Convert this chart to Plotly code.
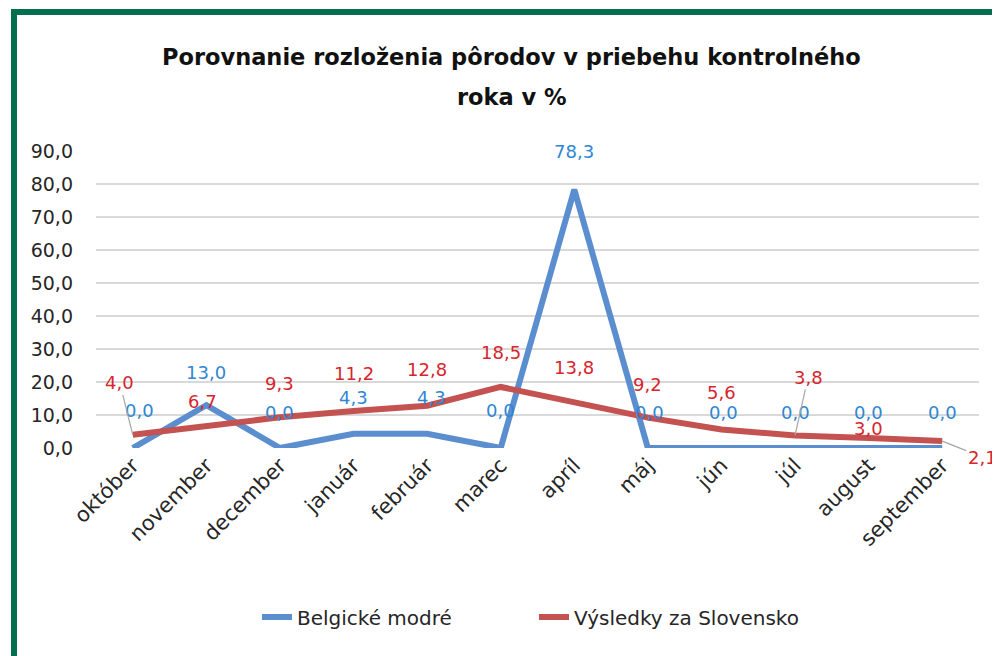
import plotly.graph_objects as go

months = ["október", "november", "december", "január", "február", "marec",
          "apríl", "máj", "jún", "júl", "august", "september"]
belgicke = [0.0, 13.0, 0.0, 4.3, 4.3, 0.0, 78.3, 0.0, 0.0, 0.0, 0.0, 0.0]
slovensko = [4.0, 6.7, 9.3, 11.2, 12.8, 18.5, 13.8, 9.2, 5.6, 3.8, 3.0, 2.1]
y_ticks = [0, 10, 20, 30, 40, 50, 60, 70, 80, 90]

# label pixel offsets (style)
blue_off = [(7, -38), (0, -33), (0, -36), (0, -36), (4, -36), (0, -38),
            (0, -38), (2, -36), (2, -36), (0, -36), (0, -36), (0, -36)]
red_off = [(-13, -52), (-4, -24), (0, -34), (0, -38), (0, -36), (0, -34),
           (0, -35), (0, -33), (0, -37), (13, -58), (0, -10), (40, 16)]
red_arrow = [True, False, False, False, False, False, False, False, False, True, False, True]

BLUE_LINE = "#5a8ecf"
RED_LINE = "#c35250"
BLUE_TXT = "#2f86d3"
RED_TXT = "#d6262d"
FONT = "DejaVu Sans"

fig = go.Figure()
fig.add_trace(go.Scatter(x=months, y=belgicke, mode="lines", name="Belgické modré",
                         line=dict(color=BLUE_LINE, width=6)))
fig.add_trace(go.Scatter(x=months, y=slovensko, mode="lines", name="Výsledky za Slovensko",
                         line=dict(color=RED_LINE, width=6)))

def fmt(v):
    return f"{v:.1f}".replace(".", ",")

ann = []
for m, v, (dx, dy) in zip(months, belgicke, blue_off):
    ann.append(dict(x=m, y=v, xref="x", yref="y", text=fmt(v), showarrow=False,
                    xshift=dx, yshift=-dy,
                    font=dict(family=FONT, size=18, color=BLUE_TXT)))
for m, v, (dx, dy), arr in zip(months, slovensko, red_off, red_arrow):
    if arr:
        ann.append(dict(x=m, y=v, xref="x", yref="y", text=fmt(v), showarrow=True,
                        arrowhead=0, arrowwidth=1.2, arrowcolor="#a6a6a6", ax=dx, ay=dy,
                        font=dict(family=FONT, size=18, color=RED_TXT)))
    else:
        ann.append(dict(x=m, y=v, xref="x", yref="y", text=fmt(v), showarrow=False,
                        xshift=dx, yshift=-dy,
                        font=dict(family=FONT, size=18, color=RED_TXT)))

ann.append(dict(text="<b>Porovnanie rozloženia pôrodov v priebehu kontrolného</b>",
                xref="paper", yref="paper", x=0.471, y=1.3165, showarrow=False,
                xanchor="center", yanchor="middle",
                font=dict(family=FONT, size=22.5, color="#111111")))
ann.append(dict(text="<b>roka v %</b>",
                xref="paper", yref="paper", x=0.471, y=1.1818, showarrow=False,
                xanchor="center", yanchor="middle",
                font=dict(family=FONT, size=22.5, color="#111111")))

# page body has an 8px margin: figure coordinates = screen - 8
OFF = 8
W, H = 992, 648
L, R, T, B = 96 - OFF, 21, 151 - OFF, 208
pw, ph = W - L - R, H - T - B
def px(xs): return (xs - OFF - L) / pw
def py(ys): return (H - B - (ys - OFF)) / ph

shapes = [
    dict(type="rect", xref="paper", yref="paper", x0=px(11), x1=px(17), y0=py(660), y1=py(9),
         fillcolor="#036f4d", line=dict(width=0), layer="above"),
    dict(type="rect", xref="paper", yref="paper", x0=px(11), x1=px(1002), y0=py(15), y1=py(9),
         fillcolor="#036f4d", line=dict(width=0), layer="above"),
]

fig.update_layout(
    width=W, height=H,
    margin=dict(l=L, r=R, t=T, b=B),
    paper_bgcolor="white", plot_bgcolor="white",
    separators=", ",
    annotations=ann, shapes=shapes,
    showlegend=True,
    legend=dict(orientation="h", x=px(257), xanchor="left", y=-0.569, yanchor="middle",
                entrywidth=232, entrywidthmode="pixels",
                font=dict(family=FONT, size=20, color="#262626")),
    xaxis=dict(type="category", tickangle=-45, showgrid=False, showline=False, zeroline=False,
               ticks="", tickfont=dict(family=FONT, size=21, color="#262626"),
               range=[-0.5, 11.5]),
    yaxis=dict(range=[0, 90], tickvals=y_ticks, tickformat=".1f", showgrid=True,
               gridcolor="#d9d9d9", gridwidth=2, zeroline=False, showline=False,
               ticks="", ticklen=0, ticklabelstandoff=22,
               tickfont=dict(family=FONT, size=19, color="#262626")),
)

fig.write_html("out.html")
